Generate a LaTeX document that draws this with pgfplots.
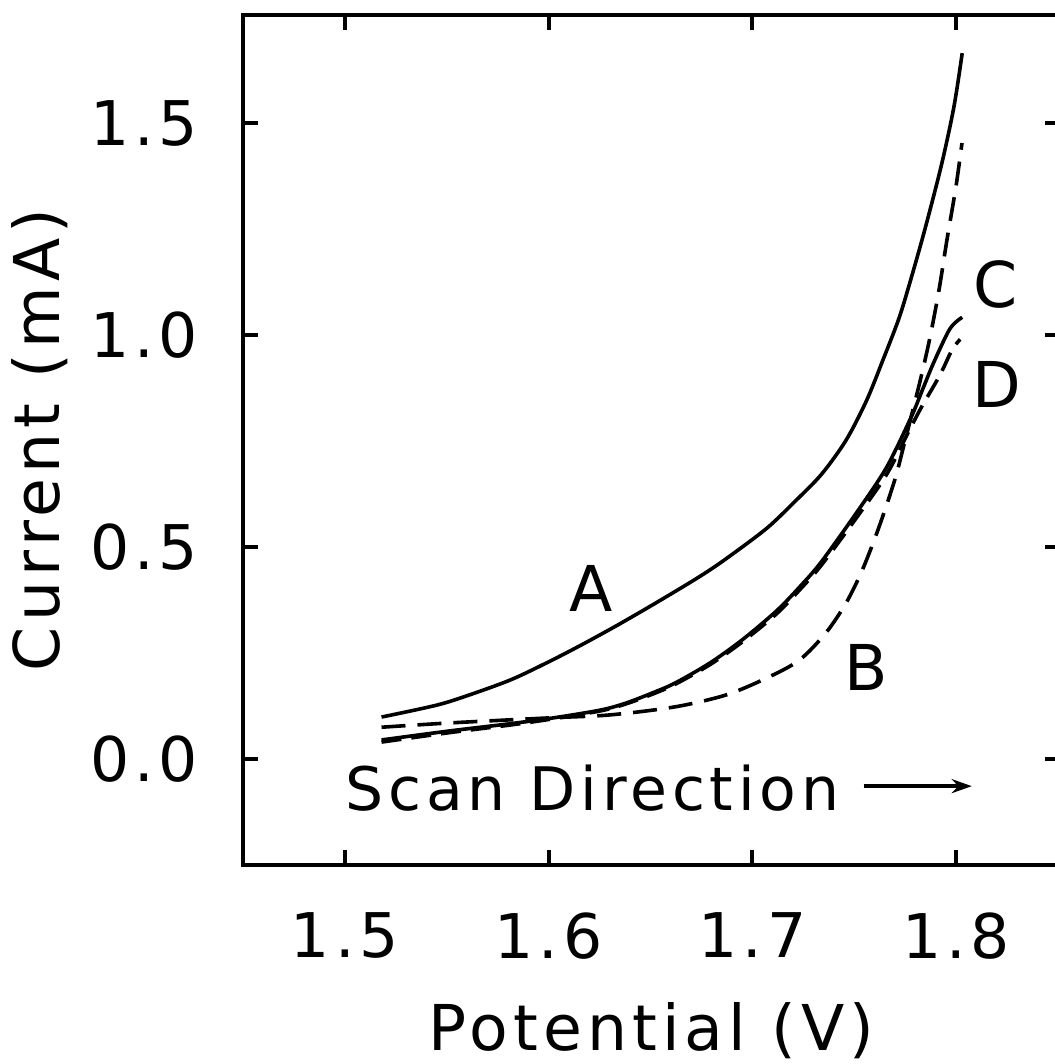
\documentclass[border=0pt]{standalone}
\usepackage{fontspec}
\setmainfont{DejaVu Sans}[LetterSpace=8]
\usepackage{pgfplots}
\pgfplotsset{compat=1.18}
\usetikzlibrary{arrows.meta}
\begin{document}
\begin{tikzpicture}
\begin{axis}[
  at={(0,0)}, anchor=south west,
  scale only axis, width=204.25pt, height=212.5pt,
  xmin=1.45, xmax=1.851, ymin=-0.25, ymax=1.755,
  xtick={1.5,1.6,1.7,1.8}, ytick={0,0.5,1,1.5},
  tick align=inside, major tick length=3.75pt,
  tick style={line width=1pt, black},
  axis line style={line width=1pt},
  /pgf/number format/assume math mode=true,
  /pgf/number format/.cd, fixed, fixed zerofill, precision=1, /pgfplots/.cd,
  xticklabel style={font=\fontsize{15.4}{18}\selectfont, anchor=north, inner sep=0pt, yshift=-11.75pt},
  yticklabel style={font=\fontsize{15.4}{18}\selectfont, anchor=east, inner sep=0pt, xshift=-11pt},
  every axis x label/.style={at={(axis description cs:0.5,0)}, anchor=base, yshift=-46.25pt, inner sep=0pt, font=\fontsize{15.8}{18}\selectfont},
  every axis y label/.style={at={(axis description cs:0,0.5)}, rotate=90, anchor=base, yshift=45.75pt, inner sep=0pt, font=\fontsize{15.8}{18}\selectfont},
  xlabel={Potential (V)}, ylabel={Current (mA)},
  clip=false,
]
% A (solid)
\addplot[black, line width=0.9pt, smooth] coordinates {
(1.518,0.099)(1.545,0.127)(1.561,0.151)(1.582,0.188)(1.602,0.234)(1.618,0.274)
(1.635,0.319)(1.654,0.372)(1.674,0.430)(1.687,0.472)(1.707,0.544)(1.721,0.608)
(1.734,0.672)(1.746,0.752)(1.756,0.845)(1.764,0.940)(1.772,1.040)(1.778,1.135)
(1.785,1.255)(1.793,1.405)(1.799,1.540)(1.803,1.665)};
% B (dashed)
\addplot[black, line width=0.9pt, smooth, dash pattern=on 6pt off 3pt] coordinates {
(1.518,0.075)(1.551,0.085)(1.600,0.097)(1.630,0.104)(1.662,0.123)(1.687,0.151)
(1.707,0.191)(1.723,0.233)(1.736,0.297)(1.746,0.368)(1.754,0.446)(1.762,0.545)
(1.770,0.660)(1.775,0.752)(1.782,0.885)(1.787,0.990)(1.7916,1.106)(1.7955,1.224)
(1.7999,1.349)(1.8029,1.453)};
% C (solid)
\addplot[black, line width=0.9pt, smooth] coordinates {
(1.518,0.045)(1.551,0.066)(1.584,0.085)(1.605,0.099)(1.626,0.116)(1.638,0.132)
(1.651,0.156)(1.662,0.179)(1.679,0.226)(1.695,0.281)(1.712,0.350)(1.724,0.410)
(1.734,0.466)(1.752,0.587)(1.766,0.689)(1.778,0.807)(1.783,0.865)(1.789,0.935)
(1.797,1.015)(1.803,1.042)};
% D (dashed)
\addplot[black, line width=0.9pt, smooth, dash pattern=on 5pt off 2.5pt] coordinates {
(1.518,0.040)(1.551,0.062)(1.584,0.082)(1.605,0.097)(1.626,0.114)(1.638,0.130)
(1.651,0.153)(1.662,0.176)(1.679,0.222)(1.695,0.276)(1.712,0.343)(1.724,0.403)
(1.734,0.458)(1.752,0.575)(1.766,0.672)(1.777,0.775)(1.783,0.830)(1.792,0.905)
(1.798,0.965)(1.802,0.990)};
\node[font=\fontsize{15.8}{18}\selectfont, inner sep=0pt] at (axis cs:1.621,0.403) {A};
\node[font=\fontsize{15.8}{18}\selectfont, inner sep=0pt] at (axis cs:1.7558,0.215) {B};
\node[font=\fontsize{15.8}{18}\selectfont, inner sep=0pt] at (axis cs:1.8196,1.120) {C};
\node[font=\fontsize{15.8}{18}\selectfont, inner sep=0pt] at (axis cs:1.820,0.884) {D};
\node[font=\fontsize{15}{18}\selectfont, inner sep=0pt, anchor=west] at (axis cs:1.5,-0.068) {Scan Direction};
\draw[line width=0.9pt, -{Stealth[length=5pt,width=3.5pt]}] (axis cs:1.7546,-0.064) -- (axis cs:1.8077,-0.064);
\end{axis}
\pgfresetboundingbox
\path[use as bounding box] (-60.75pt,-49.75pt) rectangle (202.75pt,216.25pt);
\end{tikzpicture}
\end{document}
